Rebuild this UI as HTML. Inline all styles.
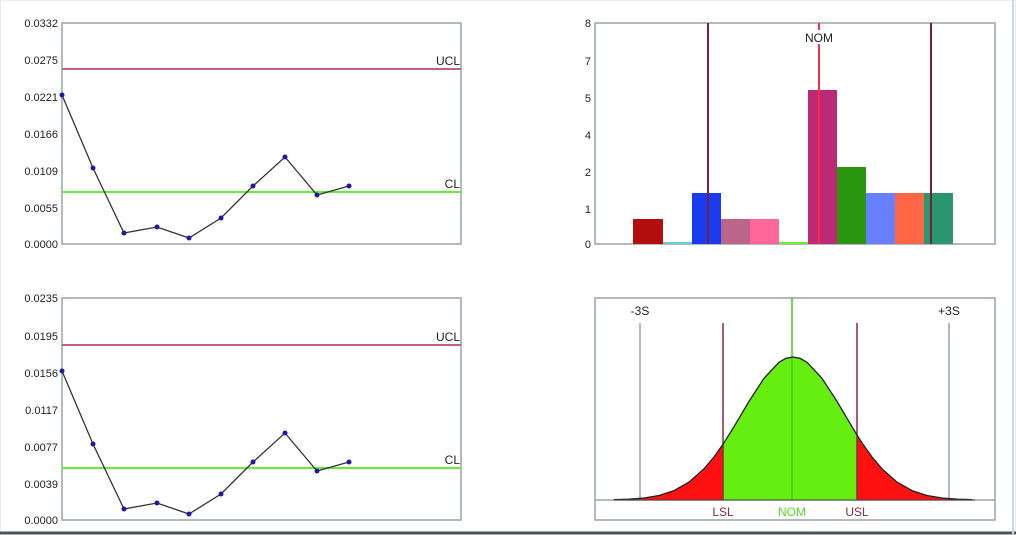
<!DOCTYPE html>
<html><head><meta charset="utf-8"><style>
html,body{margin:0;padding:0;background:#fff;}
svg{display:block;font-family:"Liberation Sans",Arial,sans-serif;}
</style></head><body>
<svg width="1016" height="535" viewBox="0 0 1016 535" xmlns="http://www.w3.org/2000/svg">
<rect x="0" y="0" width="1016" height="535" fill="#fff"/>
<rect x="0.5" y="0.5" width="1015" height="532" fill="none" stroke="#e6eeee" stroke-width="1"/>
<line x1="0" y1="533" x2="1016" y2="533" stroke="#4a5558" stroke-width="3"/>
<line x1="1013" y1="0" x2="1013" y2="535" stroke="#c8d8d8" stroke-width="2"/>

<!-- Top-left chart -->
<g font-size="11" fill="#222" text-anchor="end">
<text x="58" y="27">0.0332</text><text x="58" y="64">0.0275</text><text x="58" y="101">0.0221</text>
<text x="58" y="138">0.0166</text><text x="58" y="175">0.0109</text><text x="58" y="212">0.0055</text>
<text x="58" y="248">0.0000</text>
</g>
<rect x="62" y="23" width="399" height="221" fill="none" stroke="#9aa4a4" stroke-width="1.5"/>
<line x1="62" y1="69" x2="461" y2="69" stroke="#c0607a" stroke-width="2"/>
<line x1="62" y1="192" x2="461" y2="192" stroke="#66ee33" stroke-width="2"/>
<text x="460" y="65" font-size="12" text-anchor="end" fill="#222">UCL</text>
<text x="460" y="188" font-size="12" text-anchor="end" fill="#222">CL</text>
<polyline points="62,95 93,168 124,233 157,227 189,238 221,218 253,186 285,157 317,195 349,186" fill="none" stroke="#333" stroke-width="1.3"/>
<g fill="#1a1aaa">
<circle cx="62" cy="95" r="2.5"/><circle cx="93" cy="168" r="2.5"/><circle cx="124" cy="233" r="2.5"/><circle cx="157" cy="227" r="2.5"/><circle cx="189" cy="238" r="2.5"/><circle cx="221" cy="218" r="2.5"/><circle cx="253" cy="186" r="2.5"/><circle cx="285" cy="157" r="2.5"/><circle cx="317" cy="195" r="2.5"/><circle cx="349" cy="186" r="2.5"/>
</g>

<!-- Bottom-left chart -->
<g font-size="11" fill="#222" text-anchor="end">
<text x="58" y="302">0.0235</text><text x="58" y="340">0.0195</text><text x="58" y="377">0.0156</text>
<text x="58" y="414">0.0117</text><text x="58" y="451">0.0077</text><text x="58" y="488">0.0039</text>
<text x="58" y="524">0.0000</text>
</g>
<rect x="62" y="298" width="399" height="222" fill="none" stroke="#9aa4a4" stroke-width="1.5"/>
<line x1="62" y1="345" x2="461" y2="345" stroke="#c0607a" stroke-width="2"/>
<line x1="62" y1="468" x2="461" y2="468" stroke="#66ee33" stroke-width="2"/>
<text x="460" y="341" font-size="12" text-anchor="end" fill="#222">UCL</text>
<text x="460" y="464" font-size="12" text-anchor="end" fill="#222">CL</text>
<polyline points="62,371 93,444 124,509 157,503 189,514 221,494 253,462 285,433 317,471 349,462" fill="none" stroke="#333" stroke-width="1.3"/>
<g fill="#1a1aaa">
<circle cx="62" cy="371" r="2.5"/><circle cx="93" cy="444" r="2.5"/><circle cx="124" cy="509" r="2.5"/><circle cx="157" cy="503" r="2.5"/><circle cx="189" cy="514" r="2.5"/><circle cx="221" cy="494" r="2.5"/><circle cx="253" cy="462" r="2.5"/><circle cx="285" cy="433" r="2.5"/><circle cx="317" cy="471" r="2.5"/><circle cx="349" cy="462" r="2.5"/>
</g>

<!-- Histogram -->
<g font-size="11" fill="#222" text-anchor="end">
<text x="591" y="27">8</text><text x="591" y="65">7</text><text x="591" y="102">5</text>
<text x="591" y="139">4</text><text x="591" y="176">2</text><text x="591" y="213">1</text><text x="591" y="248">0</text>
</g>
<rect x="595" y="23" width="400" height="221" fill="none" stroke="#9aa4a4" stroke-width="1.5"/>
<rect x="633" y="219" width="30" height="25" fill="#b30e0e"/>
<rect x="663" y="242" width="29" height="2" fill="#66ccdd"/>
<rect x="692" y="193" width="29" height="51" fill="#1a3cf0"/>
<rect x="721" y="219" width="29" height="25" fill="#bb6688"/>
<rect x="750" y="219" width="29" height="25" fill="#ff6699"/>
<rect x="779" y="242" width="29" height="2" fill="#66ee33"/>
<rect x="808" y="90" width="29" height="154" fill="#bb2a77"/>
<rect x="837" y="167" width="29" height="77" fill="#2a9610"/>
<rect x="866" y="193" width="29" height="51" fill="#6680ff"/>
<rect x="895" y="193" width="29" height="51" fill="#ff6644"/>
<rect x="924" y="193" width="29" height="51" fill="#2a9670"/>
<line x1="708" y1="23" x2="708" y2="244" stroke="#7a1f3a" stroke-width="2"/>
<line x1="931" y1="23" x2="931" y2="244" stroke="#7a1f3a" stroke-width="2"/>
<line x1="819" y1="23" x2="819" y2="244" stroke="#ff2a4a" stroke-width="2"/>
<rect x="800" y="30" width="38" height="14" fill="#fff"/>
<text x="819" y="42" font-size="12" text-anchor="middle" fill="#222">NOM</text>

<!-- Distribution -->
<defs>
<clipPath id="mid"><rect x="723" y="290" width="134" height="220"/></clipPath>
</defs>
<rect x="595" y="298" width="400" height="222" fill="none" stroke="#9aa4a4" stroke-width="1.5"/>
<line x1="595" y1="500" x2="995" y2="500" stroke="#9aa4a4" stroke-width="1.5"/>
<line x1="640" y1="323" x2="640" y2="500" stroke="#9aa4a4" stroke-width="1.5"/>
<line x1="949" y1="323" x2="949" y2="500" stroke="#9aa4a4" stroke-width="1.5"/>
<path id="bell" d="M614,499.7 L629,499.2 L644,498 L659,495.5 L674,490.6 L689,482.1 L704,468.8 L714,457 L723,444.3 L734,426.7 L749,401.4 L764,378.3 L779,362.3 L786,358.3 L793,357 L800,358.3 L807,362.3 L822,378.3 L837,401.4 L852,426.7 L857,435 L863,444.3 L872,457 L882,468.8 L897,482.1 L912,490.6 L927,495.5 L942,498 L957,499.2 L972,499.7 Z" fill="#ff1111" stroke="none"/>
<path d="M614,499.7 L629,499.2 L644,498 L659,495.5 L674,490.6 L689,482.1 L704,468.8 L714,457 L723,444.3 L734,426.7 L749,401.4 L764,378.3 L779,362.3 L786,358.3 L793,357 L800,358.3 L807,362.3 L822,378.3 L837,401.4 L852,426.7 L857,435 L863,444.3 L872,457 L882,468.8 L897,482.1 L912,490.6 L927,495.5 L942,498 L957,499.2 L972,499.7 Z" fill="#66ee11" clip-path="url(#mid)"/>
<line x1="792" y1="298" x2="792" y2="500" stroke="#44cc22" stroke-width="1.5"/>
<line x1="723" y1="323" x2="723" y2="500" stroke="#8a2a44" stroke-width="1.5"/>
<line x1="857" y1="323" x2="857" y2="500" stroke="#8a2a44" stroke-width="1.5"/>
<polyline points="614,499.7 629,499.2 644,498 659,495.5 674,490.6 689,482.1 704,468.8 714,457 723,444.3 734,426.7 749,401.4 764,378.3 779,362.3 786,358.3 793,357 800,358.3 807,362.3 822,378.3 837,401.4 852,426.7 857,435 863,444.3 872,457 882,468.8 897,482.1 912,490.6 927,495.5 942,498 957,499.2 972,499.7" fill="none" stroke="#222" stroke-width="1.3"/>
<line x1="614" y1="500" x2="975" y2="500" stroke="#444" stroke-width="1"/>
<text x="640" y="315" font-size="12" text-anchor="middle" fill="#222">-3S</text>
<text x="949" y="315" font-size="12" text-anchor="middle" fill="#222">+3S</text>
<text x="723" y="516" font-size="12" text-anchor="middle" fill="#8a2a44">LSL</text>
<text x="792" y="516" font-size="12" text-anchor="middle" fill="#55dd22">NOM</text>
<text x="857" y="516" font-size="12" text-anchor="middle" fill="#8a2a44">USL</text>
</svg>
</body></html>
